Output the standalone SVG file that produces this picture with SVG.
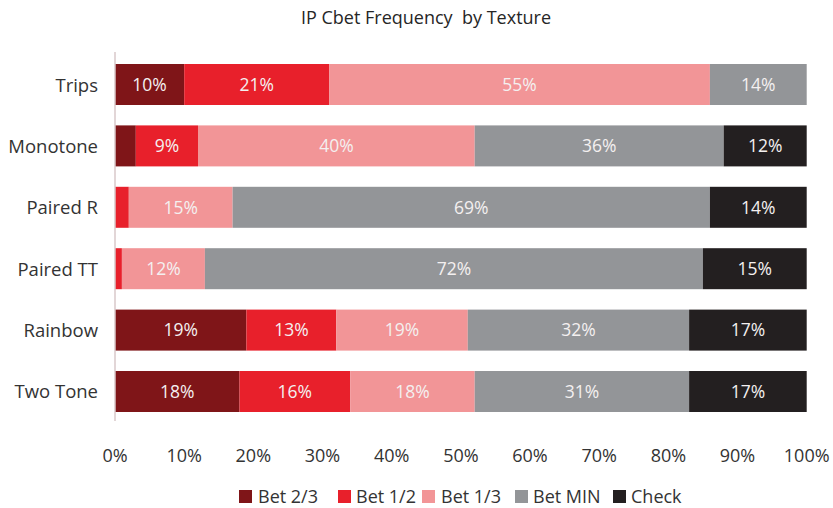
<svg xmlns="http://www.w3.org/2000/svg" width="833" height="508" viewBox="0 0 833 508">
  <style>
    text { font-family: "Open Sans", "Liberation Sans", sans-serif; }
    .title { font-size: 18px; fill: #262626; text-anchor: middle; white-space: pre; }
    .cat { font-size: 18.5px; fill: #333333; text-anchor: end; }
    .tick { font-size: 18px; fill: #333333; text-anchor: middle; }
    .leg { font-size: 18px; fill: #333333; }
    .val { font-size: 17.5px; fill: #f4f0f0; text-anchor: middle; }
    .b23 { fill: #7f1518; }
    .b12 { fill: #e8202b; }
    .b13 { fill: #f29597; }
    .bmin { fill: #939598; }
    .chk { fill: #231f20; }
  </style>

  <rect width="833" height="508" fill="#ffffff"/>

  <text class="title" x="426" y="24" xml:space="preserve">IP Cbet Frequency  by Texture</text>

  <!-- Trips -->
  <g id="trips">
    <rect class="b23" x="115" y="64" width="69.2" height="41"/>
    <rect class="b12" x="184.2" y="64" width="145.2" height="41"/>
    <rect class="b13" x="329.4" y="64" width="380.5" height="41"/>
    <rect class="bmin" x="709.9" y="64" width="96.8" height="41"/>
    <text class="cat" x="98" y="91.5">Trips</text>
    <text class="val" x="149.6" y="90.7">10%</text>
    <text class="val" x="256.8" y="90.7">21%</text>
    <text class="val" x="519.6" y="90.7">55%</text>
    <text class="val" x="758.3" y="90.7">14%</text>
  </g>

  <!-- Monotone -->
  <g id="monotone">
    <rect class="b23" x="115" y="125.4" width="20.8" height="41"/>
    <rect class="b12" x="135.8" y="125.4" width="62.2" height="41"/>
    <rect class="b13" x="198" y="125.4" width="276.7" height="41"/>
    <rect class="bmin" x="474.7" y="125.4" width="249" height="41"/>
    <rect class="chk" x="723.7" y="125.4" width="83" height="41"/>
    <text class="cat" x="98" y="152.7">Monotone</text>
    <text class="val" x="166.9" y="152.1">9%</text>
    <text class="val" x="336.4" y="152.1">40%</text>
    <text class="val" x="599.2" y="152.1">36%</text>
    <text class="val" x="765.2" y="152.1">12%</text>
  </g>

  <!-- Paired R -->
  <g id="paired-r">
    <rect class="b12" x="115" y="186.8" width="13.8" height="41"/>
    <rect class="b13" x="128.8" y="186.8" width="103.8" height="41"/>
    <rect class="bmin" x="232.6" y="186.8" width="477.3" height="41"/>
    <rect class="chk" x="709.9" y="186.8" width="96.8" height="41"/>
    <text class="cat" x="98" y="214.1">Paired R</text>
    <text class="val" x="180.7" y="213.5">15%</text>
    <text class="val" x="471.2" y="213.5">69%</text>
    <text class="val" x="758.3" y="213.5">14%</text>
  </g>

  <!-- Paired TT -->
  <g id="paired-tt">
    <rect class="b12" x="115" y="248.2" width="6.9" height="41"/>
    <rect class="b13" x="121.9" y="248.2" width="83" height="41"/>
    <rect class="bmin" x="204.9" y="248.2" width="498" height="41"/>
    <rect class="chk" x="702.9" y="248.2" width="103.8" height="41"/>
    <text class="cat" x="98" y="275.5">Paired TT</text>
    <text class="val" x="163.4" y="274.9">12%</text>
    <text class="val" x="453.9" y="274.9">72%</text>
    <text class="val" x="754.8" y="274.9">15%</text>
  </g>

  <!-- Rainbow -->
  <g id="rainbow">
    <rect class="b23" x="115" y="309.6" width="131.4" height="41"/>
    <rect class="b12" x="246.4" y="309.6" width="89.9" height="41"/>
    <rect class="b13" x="336.3" y="309.6" width="131.5" height="41"/>
    <rect class="bmin" x="467.8" y="309.6" width="221.3" height="41"/>
    <rect class="chk" x="689.1" y="309.6" width="117.6" height="41"/>
    <text class="cat" x="98" y="336.9">Rainbow</text>
    <text class="val" x="180.7" y="336.3">19%</text>
    <text class="val" x="291.4" y="336.3">13%</text>
    <text class="val" x="402" y="336.3">19%</text>
    <text class="val" x="578.4" y="336.3">32%</text>
    <text class="val" x="747.9" y="336.3">17%</text>
  </g>

  <!-- Two Tone -->
  <g id="two-tone">
    <rect class="b23" x="115" y="371" width="124.5" height="41"/>
    <rect class="b12" x="239.5" y="371" width="110.7" height="41"/>
    <rect class="b13" x="350.2" y="371" width="124.5" height="41"/>
    <rect class="bmin" x="474.7" y="371" width="214.4" height="41"/>
    <rect class="chk" x="689.1" y="371" width="117.6" height="41"/>
    <text class="cat" x="98" y="398.3">Two Tone</text>
    <text class="val" x="177.3" y="397.7">18%</text>
    <text class="val" x="294.8" y="397.7">16%</text>
    <text class="val" x="412.4" y="397.7">18%</text>
    <text class="val" x="581.9" y="397.7">31%</text>
    <text class="val" x="747.9" y="397.7">17%</text>
  </g>

  <!-- category axis -->
  <g id="axis">
    <line x1="115" y1="52" x2="115" y2="421" stroke="#d8c9ca" stroke-width="1.5"/>
    <text class="tick" x="115" y="461.5">0%</text>
    <text class="tick" x="184.2" y="461.5">10%</text>
    <text class="tick" x="253.3" y="461.5">20%</text>
    <text class="tick" x="322.5" y="461.5">30%</text>
    <text class="tick" x="391.7" y="461.5">40%</text>
    <text class="tick" x="460.9" y="461.5">50%</text>
    <text class="tick" x="530" y="461.5">60%</text>
    <text class="tick" x="599.2" y="461.5">70%</text>
    <text class="tick" x="668.4" y="461.5">80%</text>
    <text class="tick" x="737.5" y="461.5">90%</text>
    <text class="tick" x="806.7" y="461.5">100%</text>
  </g>

  <!-- legend -->
  <g id="legend">
    <rect class="b23" x="239" y="490" width="13" height="13"/>
    <text class="leg" x="258" y="503">Bet 2/3</text>
    <rect class="b12" x="338" y="490" width="13" height="13"/>
    <text class="leg" x="356" y="503">Bet 1/2</text>
    <rect class="b13" x="422" y="490" width="13" height="13"/>
    <text class="leg" x="441" y="503">Bet 1/3</text>
    <rect class="bmin" x="515" y="490" width="13" height="13"/>
    <text class="leg" x="533" y="503">Bet MIN</text>
    <rect class="chk" x="613" y="490" width="13" height="13"/>
    <text class="leg" x="631" y="503">Check</text>
  </g>
</svg>
